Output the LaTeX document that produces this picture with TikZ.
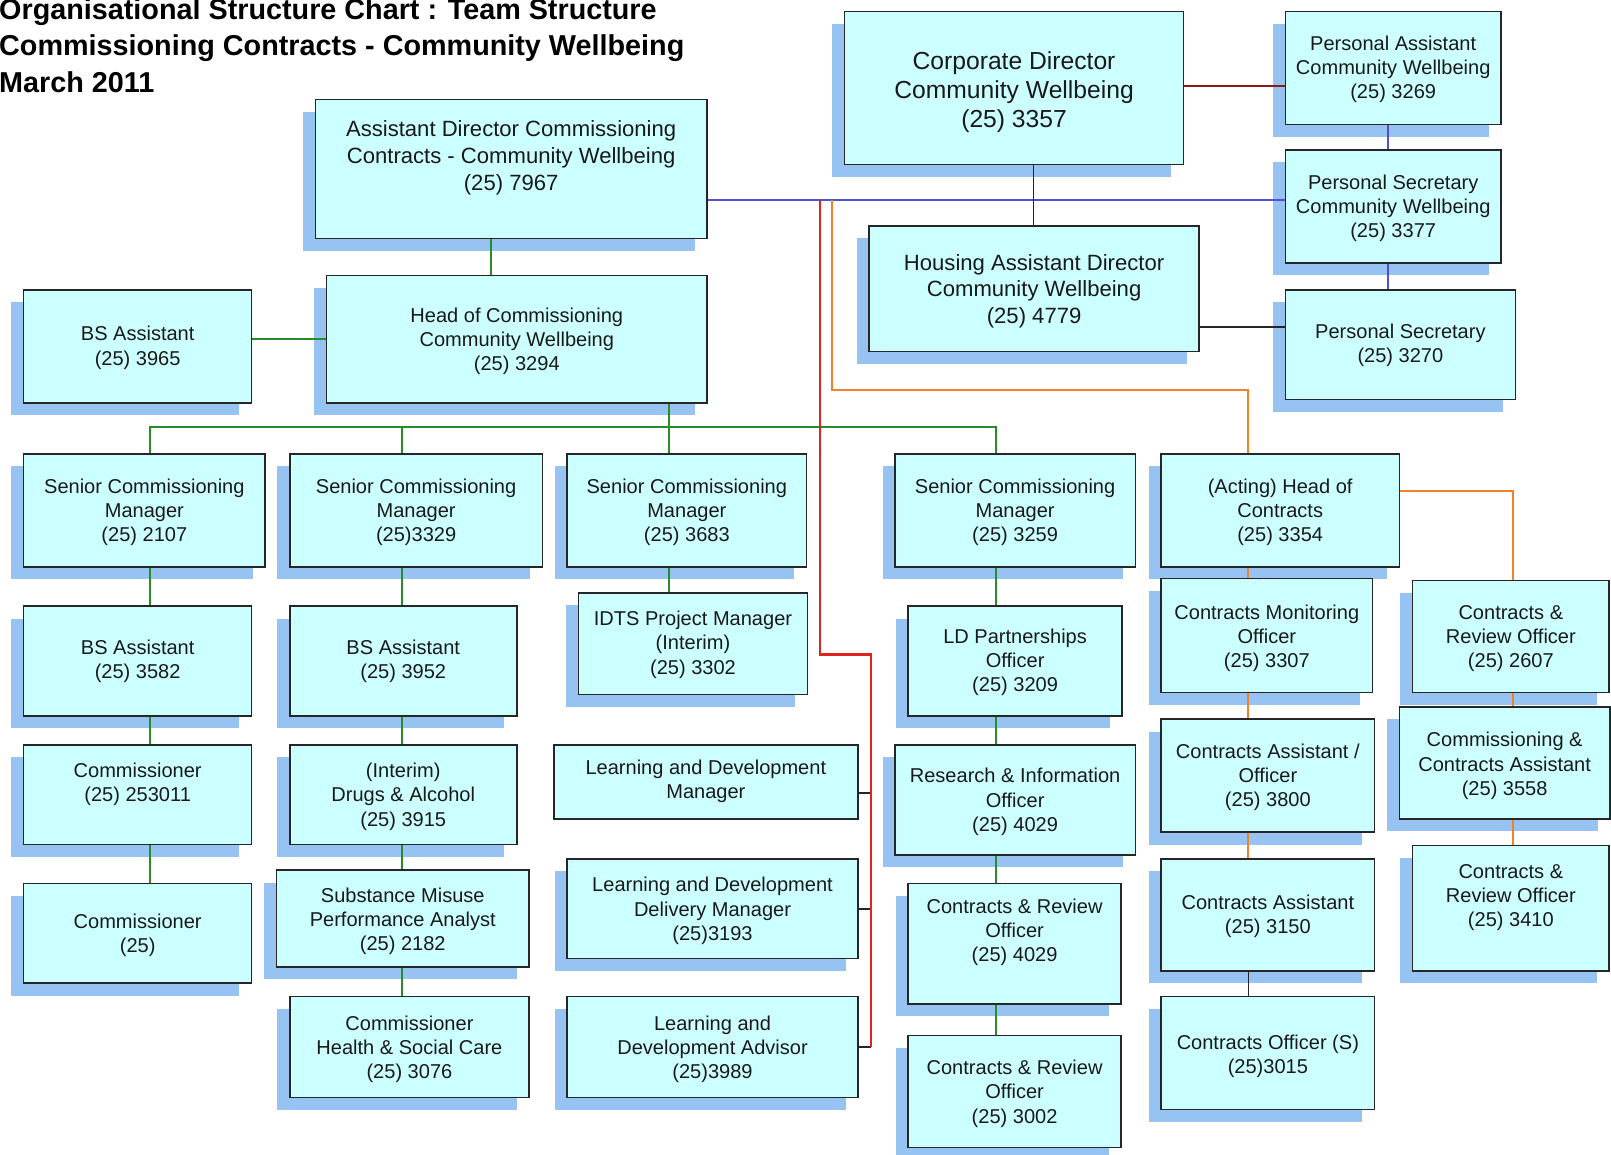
\documentclass[tikz,border=0pt]{standalone}
\usepackage{fontspec}
\setmainfont{Liberation Sans}
\definecolor{boxfill}{RGB}{204,255,255}
\definecolor{shadowc}{RGB}{150,195,242}
\definecolor{lgreen}{RGB}{40,140,40}
\definecolor{lblue}{RGB}{80,80,210}
\definecolor{lred}{RGB}{225,35,30}
\definecolor{ldred}{RGB}{140,25,20}
\definecolor{lorange}{RGB}{240,130,40}
\pgfdeclarelayer{bg}
\pgfdeclarelayer{mid}
\pgfsetlayers{bg,mid,main}
\tikzset{
  orgbox/.style={rectangle, draw=black!85, line width=1.5pt, fill=boxfill, inner sep=0pt, outer sep=0pt},
  orgtxt/.style={align=center, inner sep=0pt, text=black!90, yshift=-2.5pt},
  txtA/.style={font=\fontsize{19.5}{23.5}\selectfont},
  txtB/.style={font=\fontsize{21.5}{26}\selectfont},
  txtC/.style={font=\fontsize{24}{28.5}\selectfont},
  titletxt/.style={font=\fontsize{28}{36}\selectfont\bfseries, inner sep=0pt, anchor=base west},
  gline/.style={draw=lgreen, line width=2pt},
  bline/.style={draw=lblue, line width=2pt},
  rline/.style={draw=lred, line width=2pt},
  drline/.style={draw=ldred, line width=2pt},
  oline/.style={draw=lorange, line width=2pt},
  kline/.style={draw=black!85, line width=1.6pt},
}
% name, left, top, right, bottom, text y, text style, text
\newcommand\obox[8]{%
  \begin{pgfonlayer}{bg}
    \fill[shadowc] ({#2-12},{#3+12}) rectangle ({#4-12},{#5+12});
  \end{pgfonlayer}
  \node[orgbox, minimum width={(#4-#2)*1pt}, minimum height={(#5-#3)*1pt}] (#1) at ({(#2+#4)/2},{(#3+#5)/2}) {};
  \node[orgtxt, #7] (#1-t) at ({(#2+#4)/2},#6) {#8};
}
\newcommand\oboxns[8]{%
  \node[orgbox, minimum width={(#4-#2)*1pt}, minimum height={(#5-#3)*1pt}] (#1) at ({(#2+#4)/2},{(#3+#5)/2}) {};
  \node[orgtxt, #7] (#1-t) at ({(#2+#4)/2},#6) {#8};
}
\begin{document}
\begin{tikzpicture}[x=1pt,y=-1pt]
\begin{pgfonlayer}{bg}
\fill[white] (0,0) rectangle (1568,1124);
\end{pgfonlayer}
\useasboundingbox (0,0) rectangle (1568,1124);

% title
\node[titletxt] (title1) at (-1,19) {Organisational Structure Chart : Team Structure};
\node[titletxt] (title2) at (-1,54) {Commissioning Contracts - Community Wellbeing};
\node[titletxt] (title3) at (-1,90) {March 2011};

% boxes
\obox{ad}{307}{97}{688}{232}{151}{txtB}{Assistant Director Commissioning\\Contracts - Community Wellbeing\\(25) 7967}
\obox{cd}{822}{11}{1152}{160}{87}{txtC}{Corporate Director\\Community Wellbeing\\(25) 3357}
\obox{pa}{1251}{11}{1461}{121}{65}{txtA}{Personal Assistant\\Community Wellbeing\\(25) 3269}
\obox{ps1}{1251}{146}{1461}{256}{200}{txtA}{Personal Secretary\\Community Wellbeing\\(25) 3377}
\obox{had}{846}{220}{1167}{342}{281}{txtB}{Housing Assistant Director\\Community Wellbeing\\(25) 4779}
\obox{ps2}{1251}{282}{1475}{389}{334}{txtA}{Personal Secretary\\(25) 3270}
\obox{bs0}{23}{282}{245}{392}{336}{txtA}{BS Assistant\\(25) 3965}
\obox{hoc}{318}{268}{688}{392}{330}{txtA}{Head of Commissioning\\Community Wellbeing\\(25) 3294}

\obox{scm1}{23}{442}{258}{552}{496}{txtA}{Senior Commissioning\\Manager\\(25) 2107}
\obox{scm2}{282}{442}{528}{552}{496}{txtA}{Senior Commissioning\\Manager\\(25)3329}
\obox{scm3}{552}{442}{785}{552}{496}{txtA}{Senior Commissioning\\Manager\\(25) 3683}
\obox{scm4}{871}{442}{1105}{552}{496}{txtA}{Senior Commissioning\\Manager\\(25) 3259}
\obox{ahc}{1130}{442}{1362}{552}{496}{txtA}{(Acting) Head of\\Contracts\\(25) 3354}

\obox{bs1}{23}{590}{245}{697}{641}{txtA}{BS Assistant\\(25) 3582}
\obox{bs2}{282}{590}{503}{697}{641}{txtA}{BS Assistant\\(25) 3952}
\obox{idts}{563}{577}{786}{676}{625}{txtA}{IDTS Project Manager\\(Interim)\\(25) 3302}
\obox{ldp}{884}{590}{1092}{697}{642}{txtA}{LD Partnerships\\Officer\\(25) 3209}
\obox{cmo}{1130}{563}{1336}{674}{619}{txtA}{Contracts Monitoring\\Officer\\(25) 3307}
\obox{cr1}{1375}{565}{1566}{674}{619}{txtA}{Contracts \&\\Review Officer\\(25) 2607}

\obox{com1}{23}{725}{245}{822}{761}{txtA}{Commissioner\\(25) 253011}
\obox{int}{282}{725}{503}{822}{773}{txtA}{(Interim)\\Drugs \& Alcohol\\(25) 3915}
\oboxns{ldm}{539}{725}{835}{797}{758}{txtA}{Learning and Development\\Manager}
\obox{rio}{871}{725}{1105}{832}{778}{txtA}{Research \& Information\\Officer\\(25) 4029}
\obox{cao}{1130}{700}{1338}{810}{754}{txtA}{Contracts Assistant /\\Officer\\(25) 3800}
\obox{cca}{1362}{688}{1567}{797}{743}{txtA}{Commissioning \&\\Contracts Assistant\\(25) 3558}

\obox{com2}{23}{860}{245}{957}{908}{txtA}{Commissioner\\(25)}
\obox{smpa}{269}{847}{515}{941}{894}{txtA}{Substance Misuse\\Performance Analyst\\(25) 2182}
\obox{lddm}{552}{836}{835}{933}{884}{txtA}{Learning and Development\\Delivery Manager\\(25)3193}
\obox{cr2}{884}{860}{1091}{977}{905}{txtA}{Contracts \& Review\\Officer\\(25) 4029}
\obox{ca}{1130}{836}{1338}{945}{889}{txtA}{Contracts Assistant\\(25) 3150}
\obox{cr3}{1375}{823}{1566}{945}{871}{txtA}{Contracts \&\\Review Officer\\(25) 3410}

\obox{chsc}{282}{970}{515}{1068}{1019}{txtA}{Commissioner\\Health \& Social Care\\(25) 3076}
\obox{lda}{552}{970}{835}{1068}{1019}{txtA}{Learning and\\Development Advisor\\(25)3989}
\obox{cr4}{884}{1008}{1091}{1117}{1062}{txtA}{Contracts \& Review\\Officer\\(25) 3002}
\obox{cos}{1130}{970}{1338}{1080}{1026}{txtA}{Contracts Officer (S)\\(25)3015}

% helper coordinates
\coordinate (cAD) at (478,0);
\coordinate (cH) at (651,0);
\coordinate (c1) at (146,0);
\coordinate (c2) at (391,0);
\coordinate (c4) at (969,0);
\coordinate (cR) at (798,0);
\coordinate (cO) at (810,0);
\coordinate (cCD) at (1006,0);
\coordinate (cP) at (1351,0);
\coordinate (cAH) at (1215,0);
\coordinate (cRR) at (1473,0);
\coordinate (rx) at (848,0);
\coordinate (yBus) at (0,416);
\coordinate (yBlue) at (0,195);
\coordinate (yCD) at (0,84);
\coordinate (yH) at (0,318);
\coordinate (yOr) at (0,380);
\coordinate (yA) at (0,478);
\coordinate (yHoc) at (0,330);
\coordinate (yRed) at (0,637);
\coordinate (yLdm) at (0,772);

\begin{pgfonlayer}{mid}
% green
\draw[gline] (ad.south -| cAD) -- (hoc.north -| cAD);
\draw[gline] (bs0.east |- yHoc) -- (hoc.west |- yHoc);
\draw[gline] (hoc.south -| cH) -- (scm3.north -| cH);
\draw[gline] (scm1.north -| c1) |- (yBus -| c4) -- (scm4.north -| c4);
\draw[gline] (scm2.north -| c2) -- (yBus -| c2);
\draw[gline] (scm1.south -| c1) -- (bs1.north -| c1);
\draw[gline] (bs1.south -| c1) -- (com1.north -| c1);
\draw[gline] (com1.south -| c1) -- (com2.north -| c1);
\draw[gline] (scm2.south -| c2) -- (bs2.north -| c2);
\draw[gline] (bs2.south -| c2) -- (int.north -| c2);
\draw[gline] (int.south -| c2) -- (smpa.north -| c2);
\draw[gline] (smpa.south -| c2) -- (chsc.north -| c2);
\draw[gline] (scm3.south -| cH) -- (idts.north -| cH);
\draw[gline] (scm4.south -| c4) -- (ldp.north -| c4);
\draw[gline] (ldp.south -| c4) -- (rio.north -| c4);
\draw[gline] (rio.south -| c4) -- (cr2.north -| c4);
\draw[gline] (cr2.south -| c4) -- (cr4.north -| c4);
% blue
\draw[bline] (ad.east |- yBlue) -- (ps1.west |- yBlue);
\draw[bline] (pa.south -| cP) -- (ps1.north -| cP);
\draw[bline] (ps1.south -| cP) -- (ps2.north -| cP);
% dark red and black
\draw[drline] (cd.east |- yCD) -- (pa.west |- yCD);
\draw[kline] (cd.south -| cCD) -- (had.north -| cCD);
\draw[kline] (had.east |- yH) -- (ps2.west |- yH);
% orange
\draw[oline] (yBlue -| cO) |- (yOr -| cAH) -- (ahc.north -| cAH);
\draw[oline] (ahc.east |- yA) -| (cr1.north -| cRR);
\draw[oline] (ahc.south -| cAH) -- (cmo.north -| cAH);
\draw[oline] (cmo.south -| cAH) -- (cao.north -| cAH);
\draw[oline] (cao.south -| cAH) -- (ca.north -| cAH);
\draw[kline] (ca.south -| cAH) -- (cos.north -| cAH);
\draw[oline] (cr1.south -| cRR) -- (cca.north -| cRR);
\draw[oline] (cca.south -| cRR) -- (cr3.north -| cRR);
% red
\draw[kline] (ldm.east |- yLdm) -- (rx |- yLdm);
\draw[kline] (lddm.east) -- (rx |- lddm.east);
\draw[kline] (lda.east) -- (rx |- lda.east);
\draw[rline] (yBlue -| cR) |- (rx |- yRed) -- (rx |- lda.east);
\end{pgfonlayer}
\end{tikzpicture}
\end{document}
